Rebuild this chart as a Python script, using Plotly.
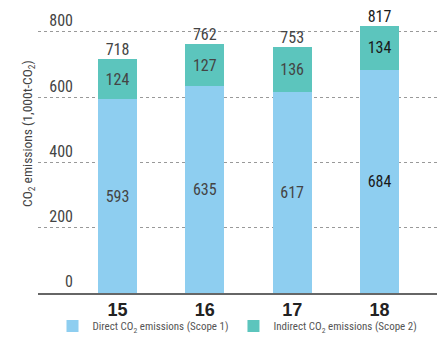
import plotly.graph_objects as go

years = ["15", "16", "17", "18"]
direct = [593, 635, 617, 684]
indirect = [124, 127, 136, 134]
totals = [718, 762, 753, 817]
ytick_vals = [0, 200, 400, 600, 800]
ytick_text = ["0", "200", "400", "600", "800"]

FONT = "Liberation Sans Narrow, Roboto Condensed, Arial Narrow, Liberation Sans, sans-serif"
xpos = list(range(len(years)))
label_colors = ["#444444", "#444444", "#444444", "#1a1a1a"]

fig = go.Figure()
fig.add_trace(go.Bar(
    x=xpos, y=direct, width=0.447, name="Direct CO<sub>2</sub> emissions (Scope 1)",
    marker=dict(color="#8ECEF0", line=dict(width=0)),
    text=[str(v) for v in direct], textposition="inside", insidetextanchor="middle",
    textfont=dict(family=FONT, size=16, color=label_colors), textangle=0,
))
fig.add_trace(go.Bar(
    x=xpos, y=indirect, width=0.447, name="Indirect CO<sub>2</sub> emissions (Scope 2)",
    marker=dict(color="#5CC5BD", line=dict(width=0)),
    text=[str(v) for v in indirect], textposition="inside", insidetextanchor="middle",
    textfont=dict(family=FONT, size=16, color=label_colors), textangle=0,
))
fig.add_trace(go.Scatter(
    x=xpos, y=totals, mode="text", text=[str(v) for v in totals],
    textposition="top center", showlegend=False, cliponaxis=False,
    textfont=dict(family=FONT, size=16, color=label_colors), hoverinfo="skip",
))

fig.update_layout(
    width=443, height=337, barmode="stack",
    margin=dict(l=38, r=6, t=10, b=44, autoexpand=False),
    paper_bgcolor="white", plot_bgcolor="white",
    font=dict(family=FONT, color="#444444"),
    uniformtext=dict(mode=False),
    legend=dict(orientation="h", x=0.5, xanchor="center", y=-0.117, yanchor="middle",
                bgcolor="rgba(0,0,0,0)",
                font=dict(family=FONT, size=11, color="#555555"), itemwidth=30,
                tracegroupgap=0, traceorder="normal"),
    xaxis=dict(range=[-0.91, 3.658], tickmode="array", tickvals=xpos, ticktext=years,
               showgrid=False, zeroline=False, showline=True, linecolor="#666666", linewidth=1.5,
               ticks="", automargin=False,
               tickfont=dict(family="Liberation Sans, Arial, sans-serif", size=18, color="#222222", weight="bold"),
               fixedrange=True),
    yaxis=dict(range=[0, 867], tickmode="array", tickvals=ytick_vals, ticktext=ytick_text,
               showgrid=True, gridcolor="#999999", griddash="dot", gridwidth=1,
               zeroline=False, showline=False, ticks="", automargin=False,
               anchor="free", position=(73 - 38) / 399, ticklabelposition="outside top",
               tickfont=dict(family=FONT, size=16, color="#444444"), fixedrange=True),
    annotations=[dict(text="CO<sub>2</sub> emissions (1,000t-CO<sub>2</sub>)", textangle=-90,
                      xref="paper", yref="paper", x=(28 - 38) / 399, y=(293 - 134) / 283,
                      xanchor="center", yanchor="middle", showarrow=False,
                      font=dict(family=FONT, size=13.5, color="#444444"))],
)

fig.write_html("out.html", config={"displayModeBar": False},
               post_script="document.body.style.margin='0';document.body.style.overflow='hidden';")
